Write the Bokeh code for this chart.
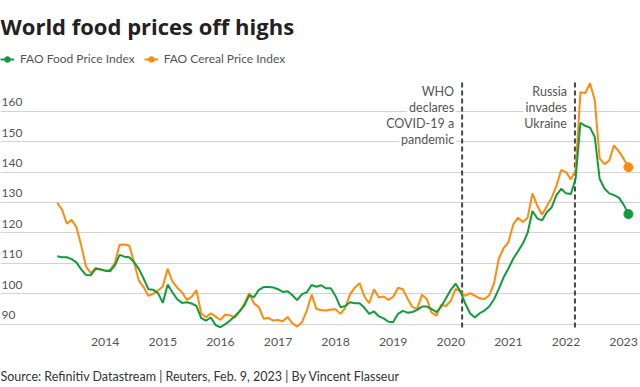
from bokeh.plotting import figure
from bokeh.models import Range1d, FixedTicker, Label, Legend, LegendItem, Grid
from bokeh.core.properties import value
from bokeh.embed import file_html
from bokeh.resources import INLINE

# ---- data (monthly, Feb 2013 .. Jan 2023) ----
start_year, start_month = 2013, 2

food_index = [
    112.3, 112.0, 112.0, 111.4, 110.3, 108.0, 106.2, 106.1, 108.2, 108.1, 107.6, 107.4,
    109.3, 112.8, 112.2, 112.0, 110.4, 108.2, 105.0, 101.5, 101.3, 100.2, 97.0, 103.0,
    100.5, 98.2, 97.0, 97.2, 96.8, 96.0, 92.0, 91.2, 92.2, 89.7, 89.0, 90.0,
    91.2, 92.6, 94.3, 96.2, 99.5, 98.9, 101.3, 102.2, 102.2, 102.1, 101.5, 100.6,
    100.8, 99.5, 97.9, 99.9, 100.5, 102.9, 102.3, 102.8, 101.8, 101.8, 99.2, 95.6,
    96.0, 97.2, 96.9, 96.9, 95.4, 93.4, 94.2, 92.6, 91.9, 90.8, 90.7, 93.4,
    94.4, 93.8, 94.0, 94.7, 95.8, 95.8, 95.0, 94.0, 95.8, 98.5, 101.3, 103.3,
    100.8, 96.8, 93.6, 92.2, 93.6, 94.5, 95.8, 98.2, 101.6, 105.4, 108.3, 111.5,
    114.0, 116.5, 120.0, 127.2, 124.8, 124.1, 126.8, 128.4, 132.4, 134.5, 133.0, 132.8,
    137.8, 156.2, 155.2, 154.6, 151.5, 137.8, 134.6, 133.0, 132.4, 131.6, 129.3, 126.2,
]

cereal_index = [
    129.9, 127.7, 123.0, 124.3, 121.9, 115.9, 108.9, 106.8, 108.5, 107.9, 107.6, 107.9,
    110.1, 116.1, 116.2, 115.9, 110.4, 104.4, 102.2, 99.3, 100.0, 101.1, 102.4, 108.2,
    104.1, 102.0, 100.5, 98.0, 99.0, 101.2, 93.6, 92.3, 93.6, 92.5, 91.4, 93.2,
    92.9, 92.2, 94.2, 96.8, 100.2, 96.8, 95.6, 91.8, 92.1, 91.2, 91.4, 91.0,
    92.4, 90.3, 89.2, 90.7, 94.5, 99.7, 95.0, 94.7, 94.5, 94.8, 94.9, 93.4,
    95.4, 99.8, 102.0, 103.5, 99.1, 96.9, 101.5, 98.8, 99.1, 98.0, 99.0, 102.0,
    101.5, 98.4, 95.6, 95.1, 99.7, 98.3, 93.8, 92.8, 96.4, 96.0, 97.7, 101.6,
    100.7, 99.3, 100.2, 99.4, 98.5, 98.3, 99.5, 103.4, 111.6, 115.0, 117.0, 122.8,
    125.0, 123.6, 125.0, 133.0, 129.0, 126.0, 128.8, 131.6, 135.5, 140.7, 140.0, 137.6,
    140.5, 166.2, 166.0, 169.2, 163.5, 144.5, 142.6, 143.8, 148.8, 146.8, 144.4, 141.6,
]

series_names = ["FAO Food Price Index", "FAO Cereal Price Index"]
series_colors = ["#109c3c", "#ff8a0d"]

year_ticks = [2014, 2015, 2016, 2017, 2018, 2019, 2020, 2021, 2022, 2023]
value_ticks = [90, 100, 110, 120, 130, 140, 150, 160]

event_dates = [(2020, 3, 11), (2022, 2, 24)]
event_lines = [["WHO", "declares", "COVID-19 a", "pandemic"], ["Russia", "invades", "Ukraine"]]

title_text = "World food prices off highs"
source_text = "Source: Refinitiv Datastream | Reuters, Feb. 9, 2023 | By Vincent Flasseur"

# ---- derived positions (decimal years, end of month) ----
n = len(food_index)
dates = [start_year + (start_month + i) / 12 for i in range(n)]
days_in_month = {2: 28, 3: 31}
event_x = [y + (m - 1 + d / days_in_month[m]) / 12 for (y, m, d) in event_dates]

FONT = "Lato"
TXT = "#555555"

W, H = 640, 387
x0, x1 = 2012.182, 2023.293          # full canvas width
y0, y1 = 69.20, 196.38               # full canvas height
event_line_bottom, event_line_top = 88.9, 169.76

p = figure(width=W, height=H, x_range=Range1d(x0, x1), y_range=Range1d(y0, y1),
           output_backend="svg", toolbar_location=None,
           x_axis_type=None, y_axis_type=None, min_border=0,
           outline_line_color=None, background_fill_color="white", border_fill_color="white")

p.add_layout(Grid(dimension=1, ticker=FixedTicker(ticks=value_ticks),
                  grid_line_color="#d2d2d2", grid_line_width=1))

# y labels sitting above gridlines
p.text(x=[x0] * len(value_ticks), y=value_ticks, text=[str(v) for v in value_ticks],
       x_offset=1, y_offset=-9, text_align="left", text_baseline="alphabetic",
       text_font=value(FONT), text_font_size="12px", text_color=TXT)

# x labels under the baseline gridline
p.text(x=year_ticks, y=[value_ticks[0]] * len(year_ticks), text=[str(y) for y in year_ticks],
       y_offset=17.5, text_align="center", text_baseline="alphabetic",
       text_font=value(FONT), text_font_size="12.3px", text_color=TXT)

# event dashed lines
p.segment(x0=event_x, y0=[event_line_bottom] * len(event_x), x1=event_x,
          y1=[event_line_top] * len(event_x), line_color="#444444", line_width=2,
          line_dash="5 3")

c_line = p.line(dates, cereal_index, line_color=series_colors[1], line_width=2)
g_line = p.line(dates, food_index, line_color=series_colors[0], line_width=2)
c_dot = p.scatter([dates[-1]], [cereal_index[-1]], size=9, color=series_colors[1])
g_dot = p.scatter([dates[-1]], [food_index[-1]], size=9, color=series_colors[0])

for ex, lines in zip(event_x, event_lines):
    for k, line in enumerate(lines):
        p.add_layout(Label(x=ex, y=event_line_top, x_offset=-6, y_offset=-(9.5 + 16 * k),
                           text=line, text_align="right", text_baseline="alphabetic",
                           text_font=FONT, text_font_size="12.5px", text_color=TXT,
                           background_fill_color="white", padding=2))

legend = Legend(items=[LegendItem(label=series_names[0], renderers=[g_line, g_dot]),
                       LegendItem(label=series_names[1], renderers=[c_line, c_dot])],
                location=(0, 321), orientation="horizontal", padding=0, margin=0,
                spacing=9, glyph_width=14, glyph_height=14, label_standoff=6,
                label_height=14, label_text_font=FONT, label_text_font_size="12px",
                label_text_color=TXT, border_line_color=None, background_fill_alpha=0)
p.add_layout(legend)

p.add_layout(Label(x=0, y=362, x_units="screen", y_units="screen", text=title_text,
                   text_font="Open Sans", text_font_style="bold", text_font_size="22px",
                   text_color="#222222", text_baseline="alphabetic"))
p.add_layout(Label(x=0, y=11, x_units="screen", y_units="screen", text=source_text,
                   text_font=FONT, text_font_size="12.5px", text_color="#333333",
                   text_baseline="alphabetic"))

open("out.html", "w").write(file_html(p, INLINE))
